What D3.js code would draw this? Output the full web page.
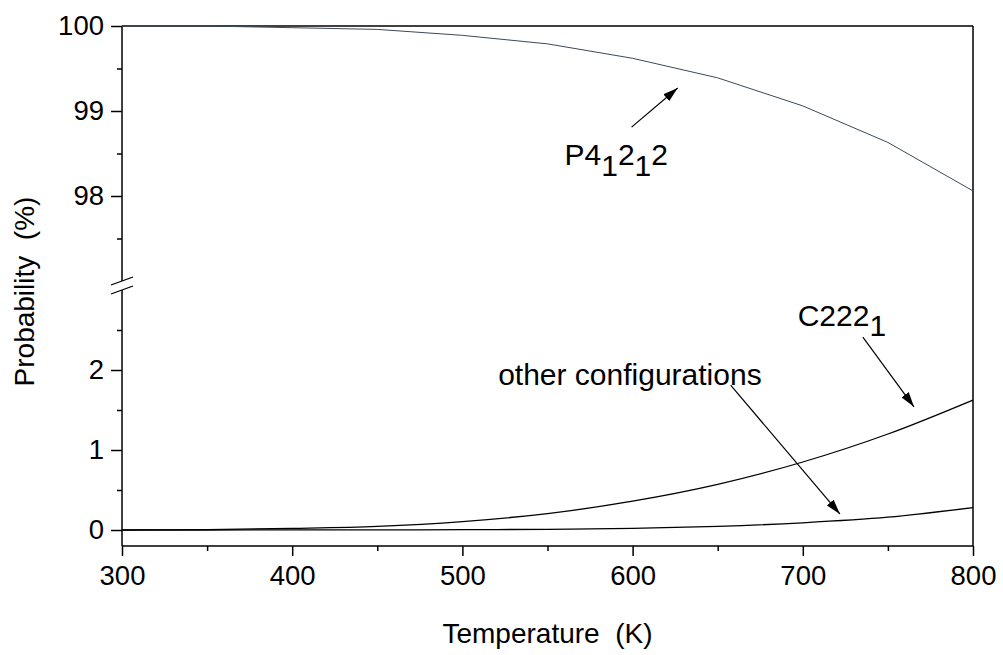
<!DOCTYPE html>
<html>
<head>
<meta charset="utf-8">
<script src="https://cdn.jsdelivr.net/npm/d3@7"></script>
<style>
  body { margin: 0; background: #fff; }
  svg { display: block; font-family: "Liberation Sans", Arial, sans-serif; }
  .axis text { font-size: 27.5px; fill: #000; }
  .axis path, .axis line { stroke: #000; stroke-width: 1.5px; }
</style>
</head>
<body>
<div id="chart"></div>
<script>
const WIDTH = 1003;
const HEIGHT = 655;

// data
const temps   = [300, 350, 400, 450, 500, 550, 600, 650, 700, 750, 800];
const p41212  = [100.00, 100.00, 99.98, 99.96, 99.89, 99.79, 99.62, 99.39, 99.06, 98.63, 98.06];
const c2221   = [0.000, 0.005, 0.020, 0.045, 0.105, 0.205, 0.360, 0.570, 0.850, 1.200, 1.625];
const others  = [0.000, 0.000, 0.001, 0.002, 0.004, 0.009, 0.020, 0.045, 0.090, 0.160, 0.280];

const xTicks = [300, 400, 500, 600, 700, 800];
const xMinor = [350, 450, 550, 650, 750];
const yTopTicks = [98, 99, 100];
const yTopMinor = [97.5, 98.5, 99.5];
const yBotTicks = [0, 1, 2];
const yBotMinor = [0.5, 1.5, 2.5];

const fmt = d3.format('d');

const svg = d3.select('#chart')
  .append('svg')
    .attr('width', WIDTH)
    .attr('height', HEIGHT);

const x = d3.scaleLinear().domain([300, 800]).range([122, 973]);
// broken y axis: upper part 97..100, lower part -0.2..3
const yTop = d3.scaleLinear().domain([97, 100]).range([281, 26]);
const yBot = d3.scaleLinear().domain([-0.2, 3]).range([546, 290]);

const x0 = x(300), x1 = x(800);
const yAxisBottom = yBot(-0.2);

// x axis
svg.append('g')
  .attr('class', 'axis')
  .attr('transform', `translate(0, ${yAxisBottom})`)
  .call(d3.axisBottom(x).tickValues(xTicks).tickFormat(fmt).tickSize(10).tickSizeOuter(0).tickPadding(9))
  .call(g => g.select('.domain').remove());

svg.append('g')
  .attr('class', 'axis')
  .attr('transform', `translate(0, ${yAxisBottom})`)
  .call(d3.axisBottom(x).tickValues(xMinor).tickSize(5).tickFormat(''))
  .call(g => g.select('.domain').remove());

// y axis, upper part
svg.append('g')
  .attr('class', 'axis')
  .attr('transform', `translate(${x0}, 0)`)
  .call(d3.axisLeft(yTop).tickValues(yTopTicks).tickFormat(fmt).tickSize(11).tickPadding(7))
  .call(g => g.select('.domain').remove());
svg.append('g')
  .attr('class', 'axis')
  .attr('transform', `translate(${x0}, 0)`)
  .call(d3.axisLeft(yTop).tickValues(yTopMinor).tickSize(5).tickFormat(''))
  .call(g => g.select('.domain').remove());

// y axis, lower part
svg.append('g')
  .attr('class', 'axis')
  .attr('transform', `translate(${x0}, 0)`)
  .call(d3.axisLeft(yBot).tickValues(yBotTicks).tickFormat(fmt).tickSize(11).tickPadding(7))
  .call(g => g.select('.domain').remove());
svg.append('g')
  .attr('class', 'axis')
  .attr('transform', `translate(${x0}, 0)`)
  .call(d3.axisLeft(yBot).tickValues(yBotMinor).tickSize(5).tickFormat(''))
  .call(g => g.select('.domain').remove());

// frame + axis lines
const frame = svg.append('g')
  .attr('stroke', '#000')
  .attr('stroke-width', 1.5)
  .attr('fill', 'none');

frame.append('line') // left, upper
  .attr('x1', x0).attr('x2', x0)
  .attr('y1', yTop(100)).attr('y2', yTop(97));
frame.append('line') // left, lower
  .attr('x1', x0).attr('x2', x0)
  .attr('y1', yBot(3)).attr('y2', yAxisBottom);
frame.append('line') // bottom
  .attr('x1', x0).attr('x2', x1)
  .attr('y1', yAxisBottom).attr('y2', yAxisBottom);
frame.append('line') // top
  .attr('x1', x0).attr('x2', x1)
  .attr('y1', yTop(100)).attr('y2', yTop(100));
frame.append('line') // right
  .attr('x1', x1).attr('x2', x1)
  .attr('y1', yTop(100)).attr('y2', yAxisBottom);

// break marks
[yTop(97), yBot(3)].forEach(yy => {
  frame.append('line')
    .attr('x1', x0 - 11).attr('y1', yy + 4)
    .attr('x2', x0 + 11).attr('y2', yy - 4)
    .attr('stroke-width', 1.3);
});

// curves
const topLine = d3.line()
  .x((d, i) => x(temps[i]))
  .y(d => yTop(d));

const botLine = d3.line()
  .x((d, i) => x(temps[i]))
  .y(d => yBot(d))
  .curve(d3.curveMonotoneX);

svg.append('path')
  .datum(p41212)
  .attr('d', topLine)
  .attr('fill', 'none')
  .attr('stroke', '#3b4a57')
  .attr('stroke-width', 1);

svg.append('path')
  .datum(c2221)
  .attr('d', botLine)
  .attr('fill', 'none')
  .attr('stroke', '#000')
  .attr('stroke-width', 1.3);

svg.append('path')
  .datum(others)
  .attr('d', botLine)
  .attr('fill', 'none')
  .attr('stroke', '#000')
  .attr('stroke-width', 1.3);

// arrows
svg.append('defs')
  .append('marker')
    .attr('id', 'arrow')
    .attr('viewBox', '0 -4.5 15 9')
    .attr('refX', 15)
    .attr('refY', 0)
    .attr('markerUnits', 'userSpaceOnUse')
    .attr('markerWidth', 15)
    .attr('markerHeight', 9)
    .attr('orient', 'auto')
  .append('path')
    .attr('d', 'M0,-4.5L15,0L0,4.5Z')
    .attr('fill', '#000');

// annotation arrows, in data units: [T from, value from, T to, value to, scale]
const arrows = [
  [599.4, 98.81, 626.5, 99.27, 'top'],
  [735.3, 2.41, 765.3, 1.54, 'bot'],
  [657.6, 1.81, 721.8, 0.20, 'bot']
];

arrows.forEach(a => {
  const ys = a[4] === 'top' ? yTop : yBot;
  svg.append('line')
    .attr('x1', x(a[0])).attr('y1', ys(a[1]))
    .attr('x2', x(a[2])).attr('y2', ys(a[3]))
    .attr('stroke', '#000')
    .attr('stroke-width', 1.2)
    .attr('marker-end', 'url(#arrow)');
});

// labels
const lab = svg.append('g')
  .attr('font-size', 30)
  .attr('fill', '#000');

const pLabel = lab.append('text')
  .attr('x', x(560))
  .attr('y', yTop(98.36));
pLabel.append('tspan').text('P4');
pLabel.append('tspan').attr('dy', 11).text('1');
pLabel.append('tspan').attr('dy', -11).text('2');
pLabel.append('tspan').attr('dy', 11).text('1');
pLabel.append('tspan').attr('dy', -11).text('2');

const cLabel = lab.append('text')
  .attr('x', x(697))
  .attr('y', yBot(2.55));
cLabel.append('tspan').text('C222');
cLabel.append('tspan').attr('dy', 10).text('1');

lab.append('text')
  .attr('x', x(521))
  .attr('y', yBot(1.81))
  .text('other configurations');

// axis titles
svg.append('text')
  .attr('x', (x0 + x1) / 2)
  .attr('y', 643)
  .attr('text-anchor', 'middle')
  .attr('font-size', 28)
  .text('Temperature\u00a0\u00a0(K)');

svg.append('text')
  .attr('transform', `translate(34, 291.5) rotate(-90)`)
  .attr('text-anchor', 'middle')
  .attr('font-size', 28)
  .text('Probability\u00a0\u00a0(%)');
</script>
</body>
</html>
